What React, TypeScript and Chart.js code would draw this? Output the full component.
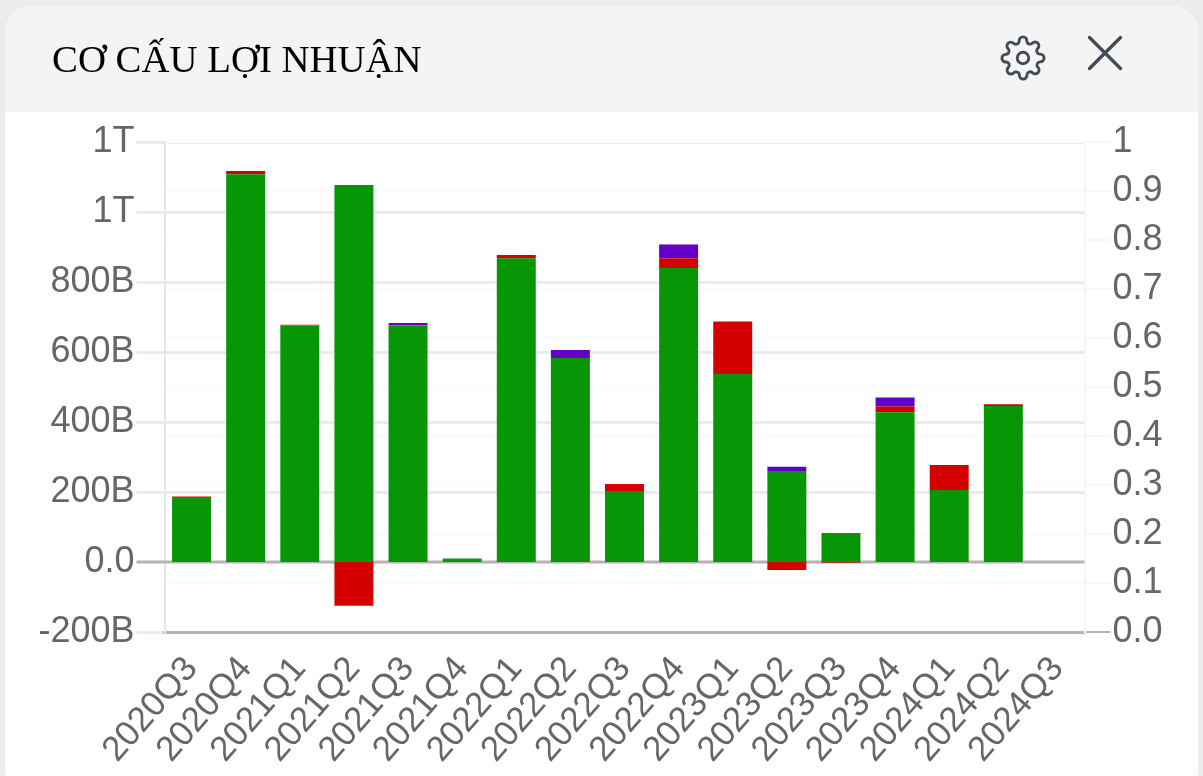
import React, { useEffect, useRef } from "react";
import { Chart, registerables } from "chart.js";

Chart.register(...registerables);

const categories = ["2020Q3","2020Q4","2021Q1","2021Q2","2021Q3","2021Q4","2022Q1","2022Q2","2022Q3","2022Q4","2023Q1","2023Q2","2023Q3","2023Q4","2024Q1","2024Q2","2024Q3"];
// values in billions
const greenValues = [186, 1108, 676, 1077, 676, 10, 868, 583, 203, 840, 537, 260, 83, 428, 206, 446, null];
const redValues = [1, 9, 2, -125, 1, 0, 9, 0, 20, 28, 150, -23, -2, 16, 71, 5, null];
const purpleValues = [0, 0, 0, 0, 6, 0, 0, 23, 0, 39, 0, 12, 0, 26, 0, 0, null];
const leftTickLabels: Record<string, string> = { "-200": "-200B", "0": "0.0", "200": "200B", "400": "400B", "600": "600B", "800": "800B", "1000": "1T", "1200": "1T" };
const rightTickLabels = ["0.0","0.1","0.2","0.3","0.4","0.5","0.6","0.7","0.8","0.9","1"];
const title = "CƠ CẤU LỢI NHUẬN";

const GREEN = "#069606";
const RED = "#D40000";
const PURPLE = "#6200C8";
const TEXT = "#666666";
const GRID = "#EBEBEB";
const AXIS = "#B4B4B4";
const FONT = { family: "'Liberation Sans', Arial, sans-serif", size: 36 };
const X_FONT = { family: "'Liberation Sans', Arial, sans-serif", size: 35 };

export default function App() {
  const ref = useRef<HTMLCanvasElement>(null);
  useEffect(() => {
    document.body.style.margin = "0";
    document.body.style.background = "#ECECEC";
    document.body.style.overflow = "hidden";
    const chart = new Chart(ref.current!, {
      type: "bar",
      data: {
        labels: categories,
        datasets: [
          { label: "green", data: greenValues, backgroundColor: GREEN, stack: "a", yAxisID: "y", categoryPercentage: 0.72, barPercentage: 1 },
          { label: "red", data: redValues, backgroundColor: RED, stack: "a", yAxisID: "y", categoryPercentage: 0.72, barPercentage: 1 },
          { label: "purple", data: purpleValues, backgroundColor: PURPLE, stack: "a", yAxisID: "y", categoryPercentage: 0.72, barPercentage: 1 },
        ],
      },
      options: {
        animation: false,
        responsive: false,
        devicePixelRatio: 1,
        layout: { padding: { top: 142, left: 0, right: 0, bottom: 0 } },
        plugins: { legend: { display: false }, tooltip: { enabled: false } },
        scales: {
          x: {
            stacked: true,
            grid: { display: false },
            border: { color: AXIS, width: 3 },
            ticks: { color: TEXT, font: X_FONT, minRotation: 49, maxRotation: 49, autoSkip: false, padding: 9 },
            afterFit: (s: any) => { s.height = 144; },
          },
          y: {
            stacked: true,
            position: "left",
            min: -200,
            max: 1200,
            grid: {
              color: GRID,
              tickColor: GRID,
              lineWidth: (c: any) => (c.tick && c.tick.value === 0 ? 0 : 3),
              tickLength: 28,
            },
            border: { color: "#E6E6E6", width: 2 },
            ticks: {
              stepSize: 200,
              color: TEXT,
              font: FONT,
              padding: 2,
              callback: (v: any) => leftTickLabels[String(v)] ?? "",
            },
            afterFit: (s: any) => { s.width = 164.5; },
          },
          y2: {
            position: "right",
            min: 0,
            max: 1,
            grid: {
              color: "#FBFBFB",
              tickColor: (c: any) => (c.tick && c.tick.value === 0 ? AXIS : "#F8F8F8"),
              lineWidth: 2,
              tickLength: 26,
            },
            border: { color: "#F6F6F6", width: 2 },
            ticks: {
              stepSize: 0.1,
              color: TEXT,
              font: FONT,
              padding: 2,
              callback: (_v: any, i: number) => rightTickLabels[i],
            },
            afterFit: (s: any) => { s.width = 118.5; },
          },
        },
      },
      plugins: [
        {
          id: "zeroLine",
          // zero gridline is drawn here so the bars can meet it with no gap
          beforeDatasetsDraw: (c: any) => {
            const y = c.scales.y.getPixelForValue(0);
            const g = c.ctx;
            g.save();
            g.strokeStyle = AXIS;
            g.lineWidth = 3;
            g.beginPath();
            g.moveTo(c.chartArea.left - 28, y);
            g.lineTo(c.chartArea.right, y);
            g.stroke();
            g.restore();
          },
        },
      ],
    } as any);
    return () => chart.destroy();
  }, []);

  return (
    <div style={{ position: "relative", width: 1203, height: 776, overflow: "hidden" }}>
      <div style={{ position: "absolute", left: 5, top: 6, width: 1193, height: 790, background: "#fff", borderRadius: 26, overflow: "hidden" }}>
        <div style={{ position: "absolute", left: 0, top: 0, right: 0, height: 106, background: "#F4F4F4" }} />
      </div>
      <canvas ref={ref} width={1203} height={776} style={{ position: "absolute", left: 0, top: 0, width: 1203, height: 776 }} />
      <div style={{ position: "absolute", left: 52, top: 36, fontFamily: "'Liberation Serif', 'Times New Roman', serif", fontSize: 38.8, lineHeight: "46px", color: "#000", whiteSpace: "nowrap" }}>{title}</div>
      <svg style={{ position: "absolute", left: 1000, top: 35 }} width="46" height="46" viewBox="0 0 24 24" fill="none" stroke="#444B55" strokeWidth="1.5" strokeLinecap="round" strokeLinejoin="round">
        <circle cx="12" cy="12" r="3" />
        <path d="M19.4 15a1.65 1.65 0 0 0 .33 1.82l.06.06a2 2 0 0 1 0 2.83 2 2 0 0 1-2.83 0l-.06-.06a1.65 1.65 0 0 0-1.82-.33 1.65 1.65 0 0 0-1 1.51V21a2 2 0 0 1-2 2 2 2 0 0 1-2-2v-.09A1.65 1.65 0 0 0 9 19.4a1.65 1.65 0 0 0-1.82.33l-.06.06a2 2 0 0 1-2.83 0 2 2 0 0 1 0-2.83l.06-.06a1.65 1.65 0 0 0 .33-1.82 1.65 1.65 0 0 0-1.51-1H3a2 2 0 0 1-2-2 2 2 0 0 1 2-2h.09A1.65 1.65 0 0 0 4.6 9a1.65 1.65 0 0 0-.33-1.82l-.06-.06a2 2 0 0 1 0-2.83 2 2 0 0 1 2.83 0l.06.06a1.65 1.65 0 0 0 1.82.33H9a1.65 1.65 0 0 0 1-1.51V3a2 2 0 0 1 2-2 2 2 0 0 1 2 2v.09a1.65 1.65 0 0 0 1 1.51 1.65 1.65 0 0 0 1.82-.33l.06-.06a2 2 0 0 1 2.83 0 2 2 0 0 1 0 2.83l-.06.06a1.65 1.65 0 0 0-.33 1.82V9a1.65 1.65 0 0 0 1.51 1H21a2 2 0 0 1 2 2 2 2 0 0 1-2 2h-.09a1.65 1.65 0 0 0-1.51 1z" />
      </svg>
      <svg style={{ position: "absolute", left: 1085, top: 33 }} width="40" height="40" viewBox="0 0 40 40" fill="none" stroke="#444B55" strokeWidth="3.4" strokeLinecap="round">
        <path d="M4.5 4.5 L35.5 35.5 M35.5 4.5 L4.5 35.5" />
      </svg>
    </div>
  );
}
